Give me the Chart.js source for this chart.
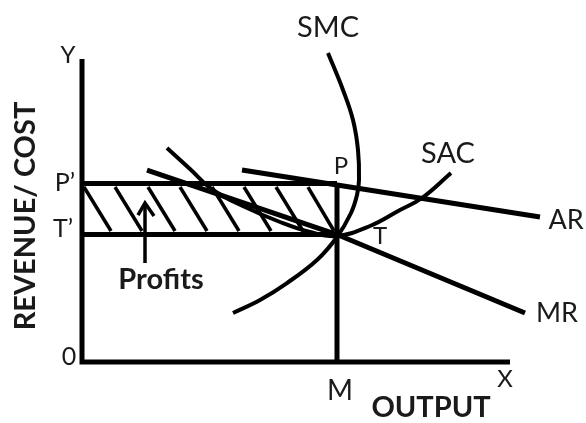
<!DOCTYPE html>
<html>
<head>
<meta charset="utf-8">
<script src="https://cdn.jsdelivr.net/npm/chart.js@4.4.0/dist/chart.umd.min.js"></script>
<style>
  html, body { margin: 0; padding: 0; background: #fff; }
  #wrap { width: 586px; height: 423px; }
</style>
</head>
<body>
<div id="wrap"><canvas id="chart" width="586" height="423"></canvas></div>
<script>
// Price levels and output (data units: output on x, revenue/cost on y)
const priceP = 59.5;     // P'
const costT = 42.5;      // T'
const outputM = 63.75;   // M
const axisTopY = 101;
const axisEndX = 107;

// Curves
const smcX = [61.5, 65.25, 67.75, 69, 69.25, 68.75, 67.25, 63.75, 58.75, 51.25, 44.5, 37.75];
const smcY = [103, 90.67, 80.67, 70.67, 60.67, 55.67, 49.67, 41.67, 34, 26.33, 20.67, 16.33];

const sacX = [21.25, 27, 32.75, 40.75, 49.5, 57, 63.75, 72, 79.5, 85, 92.25];
const sacY = [71.33, 64.33, 57.33, 51.67, 46.67, 43.33, 42, 45.33, 50.67, 54.67, 63];

const arX = [40, 114.5];
const arY = [64, 48.33];

const mrX = [16.25, 63.75, 110.75];
const mrY = [64, 42.5, 16.33];

// Hatching inside the profit rectangle
const hatchTopX = [0.5, 8.25, 16.5, 24.5, 32.5, 40.5, 48.5, 56.5];
const hatchBottomX = [7.25, 15, 23.25, 31.25, 39.25, 47.25, 55.25, 63];
const hatchTopY = 58.33;
const hatchBottomY = 43.67;

// Arrow pointing at the profit area
const arrowX = [15.75, 15.75];
const arrowY = [33, 53];
const arrowHeadX = [14, 15.75, 18];
const arrowHeadY = [49, 53, 48.67];

function pts(xs, ys) {
    return xs.map((x, i) => ({ x: x, y: ys[i] }));
}

function lineSet(data, width, tension) {
    return {
        data: data,
        showLine: true,
        borderColor: '#000',
        borderWidth: width,
        pointRadius: 0,
        tension: tension || 0,
        fill: false,
        borderCapStyle: 'butt',
        borderJoinStyle: 'miter',
        clip: false
    };
}

const datasets = [];

// axes
datasets.push(lineSet([{ x: 0, y: axisTopY }, { x: 0, y: 0 }, { x: axisEndX, y: 0 }], 5));
// profit rectangle
datasets.push(lineSet([{ x: 0, y: priceP }, { x: outputM, y: priceP }], 5));
datasets.push(lineSet([{ x: 0, y: costT }, { x: outputM, y: costT }], 5));
datasets.push(lineSet([{ x: outputM, y: priceP }, { x: outputM, y: 0 }], 5));
// hatching
hatchTopX.forEach((x, i) => {
    datasets.push(lineSet([{ x: x, y: hatchTopY }, { x: hatchBottomX[i], y: hatchBottomY }], 3.5));
});
// curves
datasets.push(lineSet(pts(arX, arY), 5));
datasets.push(lineSet(pts(mrX, mrY), 5));
datasets.push(lineSet(pts(sacX, sacY), 4, 0.4));
datasets.push(lineSet(pts(smcX, smcY), 4, 0.4));
// arrow
datasets.push(lineSet(pts(arrowX, arrowY), 3.5));
datasets.push(lineSet(pts(arrowHeadX, arrowHeadY), 3.5));

// Text labels placed in data units
const labels = [
    { text: 'Y', x: -3.5, y: 102.33, size: 24 },
    { text: 'SMC', x: 61.5, y: 111.33, size: 29 },
    { text: 'SAC', x: 91.5, y: 69.33, size: 29 },
    { text: 'P', x: 64.75, y: 65.33, size: 24 },
    { text: 'P\u2019', x: -4.25, y: 59.67, size: 25 },
    { text: 'T\u2019', x: -4.75, y: 44.33, size: 25 },
    { text: 'T', x: 74.5, y: 42, size: 24 },
    { text: 'AR', x: 121, y: 47.33, size: 27 },
    { text: 'MR', x: 118.75, y: 16.33, size: 27 },
    { text: '0', x: -3.25, y: 1.67, size: 25 },
    { text: 'M', x: 64.5, y: -9.67, size: 28 },
    { text: 'X', x: 105.75, y: -5.67, size: 24 },
    { text: 'OUTPUT', x: 87.25, y: -15.33, size: 29, bold: true },
    { text: 'Profits', x: 19.75, y: 27.33, size: 29, bold: true },
    { text: 'REVENUE/ COST', x: -14, y: 48.67, size: 29, bold: true, rotate: true }
];

const textPlugin = {
    id: 'textLabels',
    afterDatasetsDraw(chart) {
        const ctx = chart.ctx;
        const xs = chart.scales.x;
        const ys = chart.scales.y;
        ctx.save();
        ctx.fillStyle = '#1a1a1a';
        ctx.textAlign = 'center';
        ctx.textBaseline = 'middle';
        labels.forEach(l => {
            const px = xs.getPixelForValue(l.x);
            const py = ys.getPixelForValue(l.y);
            ctx.font = (l.bold ? 'bold ' : '') + l.size + 'px Lato, "Open Sans", sans-serif';
            if (l.rotate) {
                ctx.save();
                ctx.translate(px, py);
                ctx.rotate(-Math.PI / 2);
                ctx.fillText(l.text, 0, 0);
                ctx.restore();
            } else {
                ctx.fillText(l.text, px, py);
            }
        });
        ctx.restore();
    }
};

new Chart(document.getElementById('chart').getContext('2d'), {
    type: 'scatter',
    data: { datasets: datasets },
    options: {
        responsive: false,
        animation: false,
        layout: { padding: 0 },
        plugins: { legend: { display: false }, tooltip: { enabled: false } },
        scales: {
            x: { type: 'linear', min: -20.5, max: 126, display: false },
            y: { type: 'linear', min: -20.33, max: 120.67, display: false }
        }
    },
    plugins: [textPlugin]
});
</script>
</body>
</html>
